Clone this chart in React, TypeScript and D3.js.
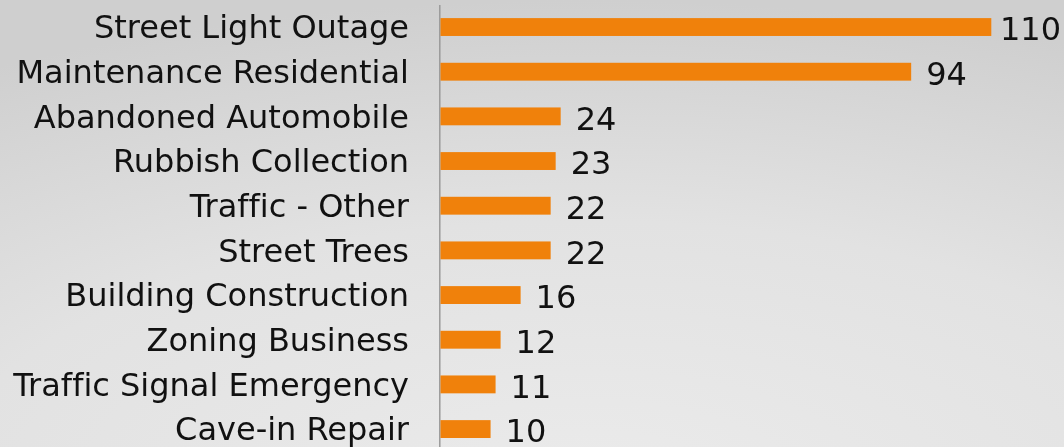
import React from "react";
import * as d3 from "d3";

const categories = [
  "Street Light Outage",
  "Maintenance Residential",
  "Abandoned Automobile",
  "Rubbish Collection",
  "Traffic - Other",
  "Street Trees",
  "Building Construction",
  "Zoning Business",
  "Traffic Signal Emergency",
  "Cave-in Repair",
];
const counts = [110, 94, 24, 23, 22, 22, 16, 12, 11, 10];

const W = 1064;
const H = 447;
const FONT = "'DejaVu Sans', Verdana, sans-serif";

export default function App() {
  const x0 = 440.5;
  const x = d3.scaleLinear().domain([0, 110]).range([x0, 991.3]);
  const y = d3
    .scaleBand<string>()
    .domain(categories)
    .range([4.7, 451.4])
    .paddingInner(0.6)
    .paddingOuter(0.3);
  const fontSize = 32;
  const charW = fontSize * 0.636;
  const textStyle = { fontVariantLigatures: "none" } as React.CSSProperties;
  return (
    <svg
      width={W}
      height={H}
      style={{ position: "fixed", left: 0, top: 0, display: "block" }}
    >
      <defs>
        <radialGradient id="bg" cx="0.55" cy="1.1" r="1.1" fx="0.55" fy="1.1">
          <stop offset="0" stopColor="#ebebeb" />
          <stop offset="0.55" stopColor="#e2e2e2" />
          <stop offset="1" stopColor="#cfcfcf" />
        </radialGradient>
      </defs>
      <rect x={0} y={0} width={W} height={H} fill="url(#bg)" />
      <line x1={439.8} x2={439.8} y1={5} y2={H} stroke="#9a9a9a" strokeWidth={1.5} />
      {categories.map((c, i) => {
        const by = y(c)!;
        const bh = y.bandwidth();
        const cy = by + bh / 2;
        const end = x(counts[i]);
        const label = String(counts[i]);
        const lw = label.length * charW;
        const lx = Math.min(end + 15, W - 3 - lw);
        return (
          <g key={c}>
            <rect x={x0} y={by} width={end - x0} height={bh} fill="#f0810b" />
            <text
              x={409}
              y={cy}
              dy="0.35em"
              textAnchor="end"
              fontFamily={FONT}
              fontSize={fontSize}
              fill="#111"
              style={textStyle}
            >
              {c}
            </text>
            <text
              x={lx}
              y={cy + 2}
              dy="0.35em"
              fontFamily={FONT}
              fontSize={fontSize}
              fill="#111"
              style={textStyle}
            >
              {label}
            </text>
          </g>
        );
      })}
    </svg>
  );
}
